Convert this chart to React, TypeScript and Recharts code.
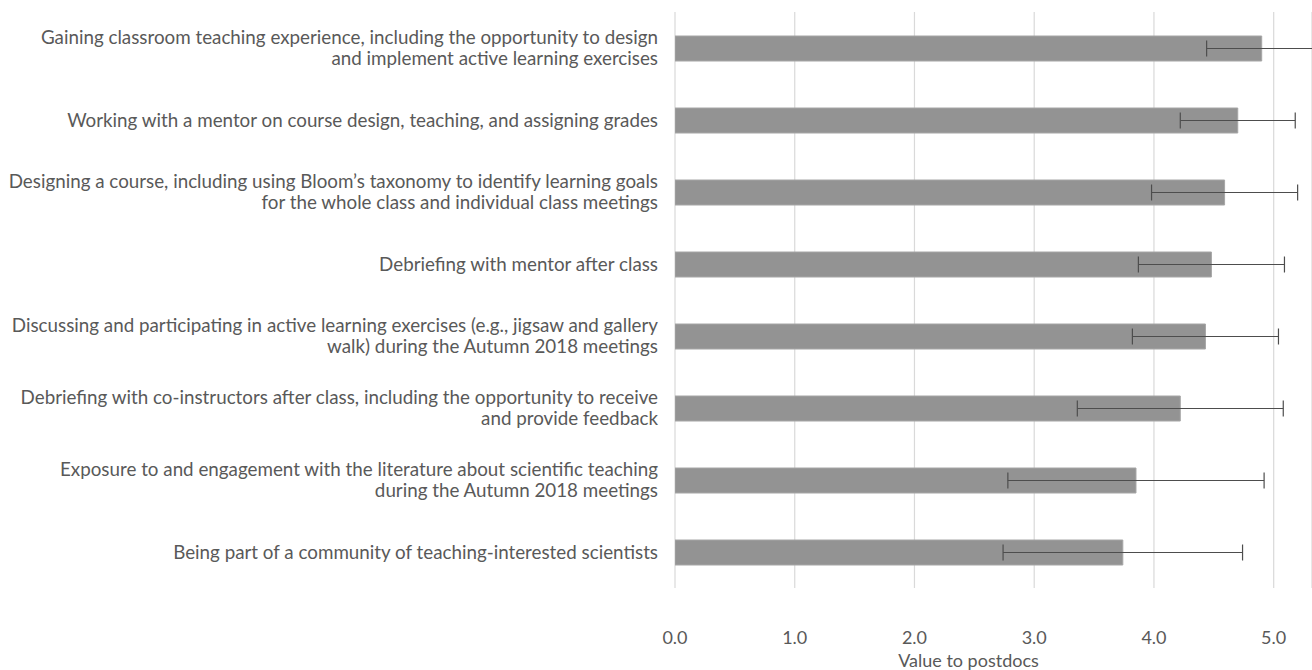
import { BarChart, Bar, XAxis, YAxis, CartesianGrid, ErrorBar } from 'recharts';

const categories = [
  'Gaining classroom teaching experience, including the opportunity to design\nand implement active learning exercises',
  'Working with a mentor on course design, teaching, and assigning grades',
  'Designing a course, including using Bloom’s taxonomy to identify learning goals\nfor the whole class and individual class meetings',
  'Debriefing with mentor after class',
  'Discussing and participating in active learning exercises (e.g., jigsaw and gallery\nwalk) during the Autumn 2018 meetings',
  'Debriefing with co-instructors after class, including the opportunity to receive\nand provide feedback',
  'Exposure to and engagement with the literature about scientific teaching\nduring the Autumn 2018 meetings',
  'Being part of a community of teaching-interested scientists',
];
const means = [4.9, 4.7, 4.59, 4.48, 4.43, 4.22, 3.85, 3.74];
const sds = [0.46, 0.48, 0.61, 0.61, 0.61, 0.86, 1.07, 1.0];
const xTicks = [0, 1, 2, 3, 4, 5];

const data = categories.map((name, i) => ({ name, value: means[i], err: sds[i] }));

const FONT = 'Lato, "Open Sans", sans-serif';
const TEXT = '#595959';

const CategoryTick = ({ x, y, payload }: any) => {
  const lines = String(payload.value).split('\n');
  const lh = 21;
  const startY = y - ((lines.length - 1) * lh) / 2;
  return (
    <text x={x} y={startY} textAnchor="end" fill={TEXT} fontSize={18.8} fontFamily={FONT}>
      {lines.map((l, i) => (
        <tspan key={i} x={x} y={startY + i * lh} dy="0.35em">
          {l}
        </tspan>
      ))}
    </text>
  );
};

export default function App() {
  return (
    <div style={{ position: 'fixed', left: 0, top: 0, background: '#fff' }}>
      <BarChart
        width={1312}
        height={670}
        data={data}
        layout="vertical"
        margin={{ top: 12, right: 0, bottom: 0, left: 0 }}
      >
        <CartesianGrid horizontal={false} stroke="#d9d9d9" strokeWidth={1.2} />
        <XAxis
          type="number"
          domain={[0, 5.32]}
          ticks={xTicks}
          allowDataOverflow
          height={82}
          axisLine={false}
          tickLine={false}
          tickMargin={37}
          tickFormatter={(v: number) => v.toFixed(1)}
          tick={{ fontSize: 18, fill: TEXT, fontFamily: FONT }}
          label={{
            value: 'Value to postdocs',
            position: 'insideBottom',
            offset: 3,
            dx: -25,
            fill: TEXT,
            fontSize: 18,
            fontFamily: FONT,
          }}
        />
        <YAxis
          type="category"
          dataKey="name"
          width={675}
          axisLine={false}
          tickLine={false}
          tickMargin={11}
          interval={0}
          tick={<CategoryTick />}
        />
        <Bar
          dataKey="value"
          barSize={25}
          fill="#939393"
          stroke="#a6a6a6"
          strokeWidth={1}
          isAnimationActive={false}
        >
          <ErrorBar dataKey="err" direction="x" width={8} stroke="#4d4d4d" strokeWidth={1.2} />
        </Bar>
      </BarChart>
    </div>
  );
}
